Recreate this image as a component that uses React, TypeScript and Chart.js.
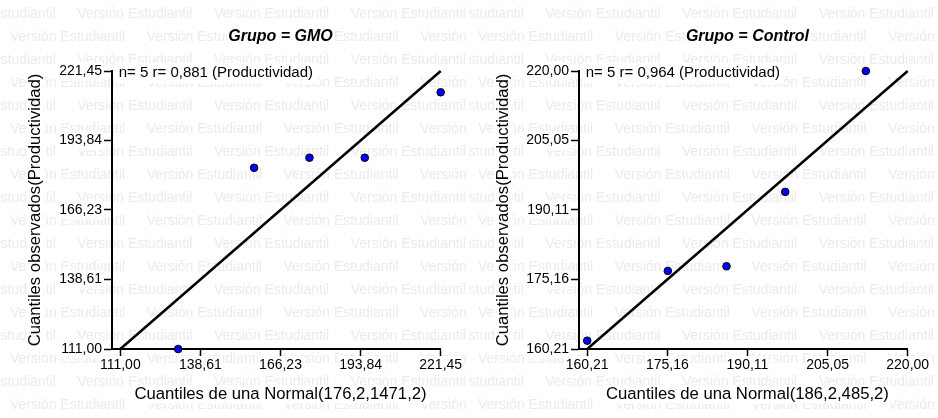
import { useEffect, useRef } from "react";
import { Chart, registerables } from "chart.js";

Chart.register(...registerables);

const FONT = "'Liberation Sans', Arial, Helvetica, sans-serif";

// ---- Data: GMO panel ----
const gmoTitle = "Grupo = GMO";
const gmoStats = "n= 5 r= 0,881 (Productividad)";
const gmoXLabel = "Cuantiles de una Normal(176,2,1471,2)";
const gmoTheoretical = [130.95, 157.13, 176.2, 195.27, 221.45];
const gmoObserved = [111, 183, 187, 187, 213];
const gmoTicks = [111.0, 138.61, 166.23, 193.84, 221.45];
const gmoAxisStart = 108.14;

// ---- Data: Control panel ----
const controlTitle = "Grupo = Control";
const controlStats = "n= 5 r= 0,964 (Productividad)";
const controlXLabel = "Cuantiles de una Normal(186,2,485,2)";
const controlTheoretical = [160.21, 175.25, 186.2, 197.15, 212.19];
const controlObserved = [162, 177, 178, 194, 220];
const controlTicks = [160.21, 175.16, 190.11, 205.05, 220.0];
const controlAxisStart = 158.68;

const yAxisLabel = "Cuantiles observados(Productividad)";
const watermarkText = "Versión Estudiantil";

const fmt = (v: number) => v.toFixed(2).replace(".", ",");

type PanelCfg = {
  title: string;
  stats: string;
  xLabel: string;
  theo: number[];
  obs: number[];
  ticks: number[];
  axisStart: number;
  yAxisWidth: number;
};

const watermarkPlugin = {
  id: "watermark",
  beforeDraw(chart: any) {
    const ctx = chart.ctx as CanvasRenderingContext2D;
    ctx.save();
    ctx.fillStyle = "#ffffff";
    ctx.fillRect(0, 0, chart.width, chart.height);
    ctx.font = `14px ${FONT}`;
    ctx.fillStyle = "#ebebeb";
    ctx.textBaseline = "middle";
    ctx.textAlign = "left";
    const period = 136.7;
    for (let k = 0; k < 18; k++) {
      const y = 14 + 23 * k;
      let x = k % 2 === 0 ? 77.3 - period : 10;
      for (; x < chart.width; x += period) ctx.fillText(watermarkText, x, y);
    }
    ctx.restore();
  },
};

function drawBoxedText(
  ctx: CanvasRenderingContext2D,
  text: string,
  x: number,
  y: number,
  size: number,
  style: string,
  align: CanvasTextAlign,
  padX: number,
  padY: number
) {
  ctx.font = `${style} ${size}px ${FONT}`;
  const w = ctx.measureText(text).width;
  const left = align === "center" ? x - w / 2 : x;
  ctx.fillStyle = "#ffffff";
  ctx.fillRect(left - padX, y - size * 0.78 - padY, w + padX * 2, size * 1.0 + padY * 2);
  ctx.fillStyle = "#000000";
  ctx.textAlign = "left";
  ctx.textBaseline = "alphabetic";
  ctx.fillText(text, left, y);
}

function makeTextPlugin(cfg: PanelCfg) {
  return {
    id: "panelText",
    afterDraw(chart: any) {
      const ctx = chart.ctx as CanvasRenderingContext2D;
      const area = chart.chartArea;
      const xs = chart.scales.x;
      const t0 = xs.getPixelForValue(cfg.ticks[0]);
      const t1 = xs.getPixelForValue(cfg.ticks[cfg.ticks.length - 1]);
      const cx = (t0 + t1) / 2;
      ctx.save();
      drawBoxedText(ctx, cfg.title, cx, area.top - 30.3, 16, "italic bold", "center", 1, 0);
      drawBoxedText(ctx, cfg.stats, area.left + 6.7, area.top + 6.3, 15, "", "left", 4, 3);
      drawBoxedText(ctx, cfg.xLabel, cx, area.bottom + 50, 16.7, "", "center", 3, 1);
      ctx.save();
      ctx.translate(40, (area.top + area.bottom) / 2);
      ctx.rotate(-Math.PI / 2);
      drawBoxedText(ctx, yAxisLabel, 0, 0, 16.7, "", "center", 2, 1);
      ctx.restore();
      ctx.restore();
    },
  };
}

function Panel({ cfg, left, width }: { cfg: PanelCfg; left: number; width: number }) {
  const ref = useRef<HTMLCanvasElement>(null);
  useEffect(() => {
    const canvas = ref.current!;
    const ticks = cfg.ticks;
    const last = ticks[ticks.length - 1];
    const tickOpts = {
      callback: (v: any) => fmt(Number(v)),
      font: { family: FONT, size: 14 },
      color: "#000",
      autoSkip: false,
      maxRotation: 0,
      showLabelBackdrop: true,
      backdropColor: "#ffffff",
      backdropPadding: 1,
    };
    const chart = new Chart(canvas, {
      type: "scatter",
      data: {
        datasets: [
          {
            data: cfg.theo.map((x, i) => ({ x, y: cfg.obs[i] })),
            backgroundColor: "#0000ff",
            borderColor: "#000000",
            borderWidth: 1,
            pointRadius: 3.8,
            clip: false,
          },
          {
            data: [
              { x: ticks[0], y: ticks[0] },
              { x: last, y: last },
            ],
            showLine: true,
            borderColor: "#000000",
            borderWidth: 2.5,
            pointRadius: 0,
            clip: false,
          } as any,
        ],
      },
      options: {
        responsive: false,
        animation: false,
        devicePixelRatio: 1,
        layout: { padding: { left: 0, top: 71, right: width - cfg.yAxisWidth - 328.7, bottom: 0 } },
        plugins: {
          legend: { display: false },
          tooltip: { enabled: false },
          title: { display: false },
        },
        scales: {
          x: {
            type: "linear",
            min: cfg.axisStart,
            max: last,
            afterBuildTicks: (s: any) => {
              s.ticks = ticks.map((v) => ({ value: v }));
            },
            afterFit: (s: any) => {
              s.height = 69;
            },
            grid: { drawOnChartArea: false, drawTicks: true, tickLength: 7, tickWidth: 1.5, tickColor: "#000" },
            border: { display: true, color: "#000", width: 2 },
            ticks: { ...tickOpts, padding: 1 },
          },
          y: {
            type: "linear",
            min: ticks[0],
            max: last,
            afterBuildTicks: (s: any) => {
              s.ticks = ticks.map((v) => ({ value: v }));
            },
            afterFit: (s: any) => {
              s.width = cfg.yAxisWidth;
            },
            grid: { drawOnChartArea: false, drawTicks: true, tickLength: 8, tickWidth: 1.5, tickColor: "#000" },
            border: { display: true, color: "#000", width: 2 },
            ticks: { ...tickOpts, padding: 2 },
          },
        },
      } as any,
      plugins: [watermarkPlugin, makeTextPlugin(cfg)],
    });
    return () => chart.destroy();
  }, []);
  return (
    <canvas
      ref={ref}
      width={width}
      height={418}
      style={{ position: "absolute", left, top: 0, width, height: 418, display: "block" }}
    />
  );
}

const gmoCfg: PanelCfg = {
  title: gmoTitle,
  stats: gmoStats,
  xLabel: gmoXLabel,
  theo: gmoTheoretical,
  obs: gmoObserved,
  ticks: gmoTicks,
  axisStart: gmoAxisStart,
  yAxisWidth: 112,
};

const controlCfg: PanelCfg = {
  title: controlTitle,
  stats: controlStats,
  xLabel: controlXLabel,
  theo: controlTheoretical,
  obs: controlObserved,
  ticks: controlTicks,
  axisStart: controlAxisStart,
  yAxisWidth: 111,
};

export default function App() {
  return (
    <div style={{ position: "absolute", left: 0, top: 0, width: 938, height: 418, background: "#fff" }}>
      <Panel cfg={gmoCfg} left={0} width={468} />
      <Panel cfg={controlCfg} left={468} width={470} />
    </div>
  );
}
